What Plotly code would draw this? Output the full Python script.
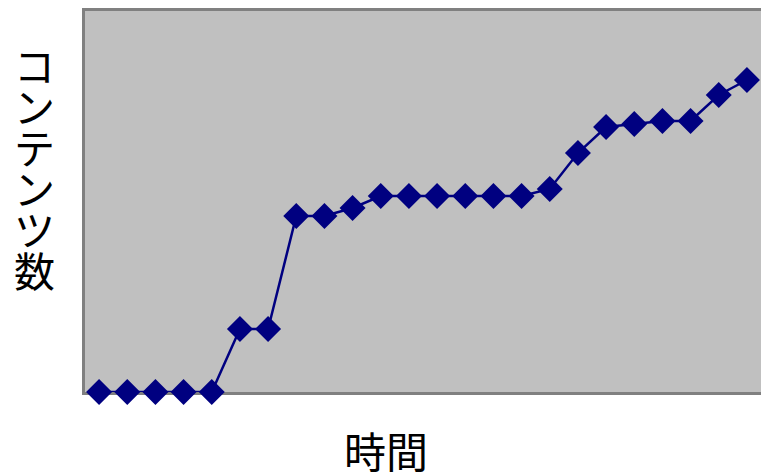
import plotly.graph_objects as go

# Data (time index -> content count)
time_idx = list(range(1, 25))
content_counts = [0, 0, 0, 0, 0, 63, 63, 176, 176, 184, 196, 196, 196, 196,
                  196, 196, 203, 239, 265, 268, 271, 271, 297, 312]
y_title = "コンテンツ数"
x_title = "時間"

fig = go.Figure()
fig.add_trace(go.Scatter(
    x=time_idx, y=content_counts, mode="lines+markers",
    line=dict(color="#000080", width=2.5),
    marker=dict(symbol="diamond", size=20, color="#000080"),
    cliponaxis=False, showlegend=False,
))

font_family = "Noto Sans CJK JP"
# vertical y title, one upright character per annotation
for i, ch in enumerate(y_title):
    fig.add_annotation(
        text=ch, xref="paper", yref="paper", x=-0.075, y=0.86 - i * 0.1075,
        showarrow=False, xanchor="center", yanchor="middle",
        font=dict(family=font_family, size=41, color="black"),
    )
fig.add_annotation(
    text=x_title, xref="paper", yref="paper", x=0.445, y=-0.15,
    showarrow=False, xanchor="center", yanchor="middle",
    font=dict(family=font_family, size=42, color="black"),
)

fig.update_layout(
    width=761, height=472,
    margin=dict(l=85, r=0, t=11, b=80),
    paper_bgcolor="white", plot_bgcolor="#C0C0C0",
    xaxis=dict(range=[0.5, 24.5], showgrid=False, zeroline=False,
               showticklabels=False, ticks="", showline=True,
               linecolor="#808080", linewidth=3, mirror=True,
               layer="below traces"),
    yaxis=dict(range=[0, 381], showgrid=False, zeroline=False,
               showticklabels=False, ticks="", showline=True,
               linecolor="#808080", linewidth=3, layer="below traces"),
)

fig.write_html("out.html")
